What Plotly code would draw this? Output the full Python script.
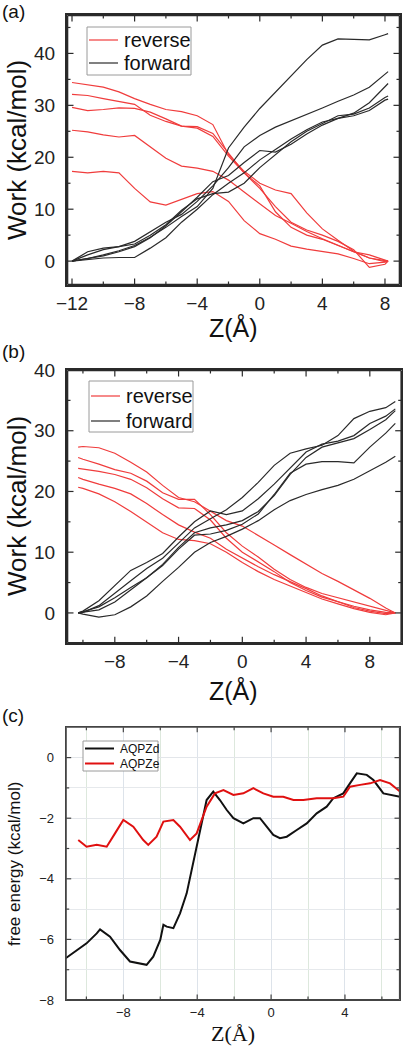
import plotly.graph_objects as go

# ---------------- Panel (a) data ----------------
A_Z = [-12, -11, -10, -9, -8, -7, -6, -5, -4, -3, -2, -1, 0, 1, 2, 3, 4, 5, 6, 7, 8, 8.2]
A_REV = [
    [34.4, 33.9, 33.5, 32.6, 31.3, 30.2, 29.2, 28.8, 28.0, 26.3, 20.5, 17.3, 15.0, 13.7, 13.0, 9.3, 6.2, 4.0, 1.9, 0.6, 0.0, 0.0],
    [32.1, 31.9, 31.3, 30.7, 30.2, 28.1, 26.9, 26.0, 25.6, 24.0, 20.2, 17.0, 14.0, 10.5, 7.5, 6.0, 5.0, 3.8, 2.2, -1.2, -0.6, 0.0],
    [29.6, 29.0, 29.2, 29.5, 29.4, 28.7, 27.4, 26.0, 25.9, 24.6, 20.8, 17.0, 14.5, 9.5, 6.5, 5.0, 4.2, 3.0, 1.8, 1.2, 0.2, 0.0],
    [25.2, 24.9, 24.3, 23.9, 24.2, 22.0, 19.8, 18.3, 17.9, 17.3, 15.6, 13.3, 11.0, 8.8, 7.3, 5.7, 4.3, 3.0, 1.8, 0.6, -0.1, 0.0],
    [17.3, 17.0, 17.3, 17.0, 14.0, 11.4, 10.8, 11.9, 13.0, 13.4, 11.5, 7.8, 5.3, 4.2, 2.9, 2.3, 1.8, 1.4, 0.5, -0.5, -0.2, 0.0],
]
A_FWD = [
    [0.0, 0.5, 1.2, 2.0, 3.0, 4.6, 6.5, 8.6, 10.5, 14.0, 21.8, 25.8, 29.4, 32.6, 35.8, 38.8, 41.6, 42.8, 42.7, 42.6, 43.6, 43.8],
    [0.0, 1.2, 2.2, 2.8, 3.8, 5.6, 7.5, 9.0, 11.5, 14.5, 18.0, 22.0, 24.2, 25.8, 27.0, 28.3, 29.5, 30.8, 32.0, 33.5, 36.0, 36.5],
    [0.0, 0.5, 1.0, 1.8, 2.8, 4.5, 6.8, 9.5, 12.3, 15.3, 16.5, 19.0, 21.3, 21.0, 22.5, 24.5, 26.2, 27.5, 28.5, 30.5, 33.5, 34.2],
    [0.0, 1.8, 2.5, 2.8, 3.3, 5.0, 7.0, 9.8, 12.0, 13.0, 13.3, 15.0, 18.0, 20.5, 23.0, 25.0, 26.5, 28.0, 28.3, 29.5, 31.5, 31.8],
    [0.0, 0.3, 0.6, 0.7, 0.7, 2.5, 4.5, 7.5, 10.0, 12.8, 15.0, 17.0, 19.5, 21.5, 23.5, 25.3, 26.8, 27.5, 28.0, 29.0, 31.0, 31.2],
]
A_XTICKS = [-12, -8, -4, 0, 4, 8]
A_XMINOR = [-10, -6, -2, 2, 6]
A_YTICKS = [0, 10, 20, 30, 40]
A_YMINOR = [5, 15, 25, 35, 45]

# ---------------- Panel (b) data ----------------
B_Z = [-10.3, -10, -9, -8, -7, -6, -5, -4, -3, -2, -1, 0, 1, 2, 3, 4, 5, 6, 7, 8, 9, 9.6]
B_REV = [
    [27.3, 27.4, 27.2, 26.3, 24.8, 23.2, 21.0, 19.0, 18.3, 16.7, 15.2, 14.3, 12.8, 11.2, 9.6, 8.0, 6.5, 5.2, 3.8, 2.4, 0.8, 0.0],
    [25.6, 25.3, 24.5, 23.6, 23.0, 21.7, 19.8, 18.7, 18.7, 16.2, 13.2, 11.0, 9.2, 7.2, 5.5, 4.2, 3.2, 2.5, 1.8, 1.0, 0.3, 0.0],
    [23.8, 23.7, 23.3, 22.8, 22.0, 20.6, 18.8, 17.3, 17.2, 15.3, 12.3, 10.0, 8.4, 6.8, 5.0, 3.7, 2.6, 1.8, 1.1, 0.5, 0.1, 0.0],
    [22.3, 22.0, 21.2, 20.5, 19.6, 18.0, 16.2, 14.5, 13.3, 12.3, 10.5, 9.0, 7.6, 6.3, 5.2, 4.0, 2.8, 1.8, 0.9, 0.3, -0.1, 0.0],
    [20.7, 20.5, 19.6, 18.3, 16.7, 15.0, 13.2, 12.1, 11.9, 11.4, 10.0, 8.3, 6.8, 5.5, 4.4, 3.3, 2.3, 1.5, 0.7, 0.1, -0.3, 0.0],
]
B_FWD = [
    [0.0, 0.1, 1.2, 3.3, 5.3, 7.3, 9.0, 11.5, 14.0, 15.5, 17.0, 19.0, 21.5, 24.3, 26.3, 27.0, 27.6, 29.2, 32.0, 33.2, 33.8, 34.8],
    [0.0, 0.3, 2.0, 4.5, 7.0, 8.3, 9.8, 12.5, 15.0, 16.8, 16.2, 16.8, 18.8, 21.2, 23.8, 26.5, 27.8, 28.3, 29.2, 31.2, 32.4, 33.6],
    [0.0, 0.1, 0.5, 1.8, 3.8, 5.8, 8.0, 10.8, 13.2, 14.0, 14.5, 15.2, 16.7, 19.3, 22.8, 25.6, 27.3, 28.0, 28.7, 30.2, 31.8, 33.3],
    [0.0, 0.2, 1.0, 2.5, 4.2, 5.8, 7.8, 10.5, 12.8, 13.0, 13.6, 14.6, 16.3, 19.5, 23.0, 24.5, 24.9, 24.9, 24.7, 27.3, 29.6, 31.2],
    [0.0, -0.2, -0.7, -0.3, 1.0, 2.8, 5.2, 7.5, 10.0, 11.6, 12.6, 13.8, 15.2, 17.0, 18.5, 19.5, 20.3, 21.0, 22.0, 23.4, 24.8, 25.8],
]
B_XTICKS = [-8, -4, 0, 4, 8]
B_XMINOR = [-10, -6, -2, 2, 6]
B_YTICKS = [0, 10, 20, 30]
B_YMINOR = [5, 15, 25, 35]

# ---------------- Panel (c) data ----------------
C_D_Z = [-11.12, -10.53, -9.99, -9.44, -9.26, -8.72, -8.18, -7.64, -7.10, -6.74, -6.38, -6.0, -5.83, -5.65,
         -5.29, -4.93, -4.57, -4.21, -3.85, -3.49, -3.13, -2.77, -2.40, -2.04, -1.50, -0.96, -0.60, -0.24,
         0.12, 0.48, 0.85, 1.39, 1.93, 2.47, 3.01, 3.37, 3.91, 4.27, 4.64, 5.18, 5.54, 6.08, 6.53, 6.98]
C_D_G = [-6.62, -6.35, -6.13, -5.80, -5.67, -5.91, -6.35, -6.73, -6.79, -6.84, -6.57, -6.02, -5.52, -5.58,
         -5.63, -5.14, -4.48, -3.49, -2.39, -1.40, -1.12, -1.40, -1.73, -2.00, -2.17, -2.00, -2.00, -2.28,
         -2.55, -2.66, -2.61, -2.39, -2.17, -1.84, -1.62, -1.34, -1.18, -0.85, -0.52, -0.57, -0.74, -1.18, -1.23, -1.29]
C_E_Z = [-10.44, -9.99, -9.44, -8.90, -8.45, -8.0, -7.46, -6.92, -6.65, -6.2, -5.83, -5.29, -4.93, -4.39,
         -4.03, -3.49, -3.04, -2.58, -2.04, -1.50, -0.96, -0.42, 0.12, 0.66, 1.21, 1.75, 2.47, 3.37, 3.91,
         4.27, 4.82, 5.36, 5.90, 6.44, 6.98]
C_E_G = [-2.72, -2.94, -2.88, -2.94, -2.50, -2.06, -2.28, -2.72, -2.88, -2.61, -2.11, -2.06, -2.28, -2.72,
         -2.50, -1.62, -1.18, -1.07, -1.23, -1.18, -1.01, -1.18, -1.29, -1.29, -1.40, -1.40, -1.34, -1.34, -1.29,
         -0.96, -0.90, -0.85, -0.74, -0.85, -1.12]
C_XTICKS = [-8, -4, 0, 4]
C_XMINOR = [-10, -6, -2, 2, 6]
C_YTICKS = [-8, -6, -4, -2, 0]
C_YMINOR = [-7, -5, -3, -1]

WORK_NAMES = ["reverse", "forward"]
FE_NAMES = ["AQPZd", "AQPZe"]

RED = "#f03c3c"
BLACK = "#2a2a2a"
C_BLACK = "#111111"
C_RED = "#e01010"
FRAME = "#2a2a2a"
SANS = "Liberation Sans, Arial, sans-serif"
SERIF = "Liberation Serif, Times New Roman, serif"

W, H = 403, 1047
def fx(p):
    return p / W
def fy(p):
    return 1 - p / H

PA = dict(l=67, r=400, t=15, b=285, xr=(-12.32, 8.96), yr=(-4.6, 47.4))
PB = dict(l=67, r=401.7, t=370, b=643.3, xr=(-11, 10), yr=(-5, 40))
PC = dict(l=65.7, r=400, t=726.7, b=1000, xr=(-11.12, 6.98), yr=(-8, 1.02))

fig = go.Figure()

def add_work(xa, ya, zs, rev, fwd):
    for ys in rev:
        fig.add_trace(go.Scatter(x=zs, y=ys, mode="lines", name=WORK_NAMES[0],
                                 line=dict(color=RED, width=1.2), showlegend=False,
                                 xaxis=xa, yaxis=ya))
    for ys in fwd:
        fig.add_trace(go.Scatter(x=zs, y=ys, mode="lines", name=WORK_NAMES[1],
                                 line=dict(color=BLACK, width=1.2), showlegend=False,
                                 xaxis=xa, yaxis=ya))

add_work("x", "y", A_Z, A_REV, A_FWD)
add_work("x2", "y2", B_Z, B_REV, B_FWD)
fig.add_trace(go.Scatter(x=C_D_Z, y=C_D_G, mode="lines", name=FE_NAMES[0], showlegend=False,
                         line=dict(color=C_BLACK, width=2), xaxis="x3", yaxis="y3"))
fig.add_trace(go.Scatter(x=C_E_Z, y=C_E_G, mode="lines", name=FE_NAMES[1], showlegend=False,
                         line=dict(color=C_RED, width=2), xaxis="x3", yaxis="y3"))

def ax_common(size, ticks):
    return dict(showline=True, linecolor=FRAME, linewidth=2, mirror=True,
                ticks="", tickvals=ticks, showgrid=False, zeroline=False,
                tickfont=dict(family=SANS, size=size, color="#222222"))

def xdom(p):
    return [fx(p["l"]), fx(p["r"])]
def ydom(p):
    return [fy(p["b"]), fy(p["t"])]

xa = ax_common(19, A_XTICKS)
xa.update(domain=xdom(PA), range=list(PA["xr"]), anchor="y")
ya = ax_common(19, A_YTICKS)
ya.update(domain=ydom(PA), range=list(PA["yr"]), anchor="x", ticklabelstandoff=6)

xb = ax_common(19, B_XTICKS)
xb.update(domain=xdom(PB), range=list(PB["xr"]), anchor="y2")
yb = ax_common(19, B_YTICKS + [40])
yb.update(domain=ydom(PB), range=list(PB["yr"]), anchor="x2", ticklabelstandoff=6)

xc = ax_common(13, C_XTICKS)
xc.update(domain=xdom(PC), range=list(PC["xr"]), anchor="y3", linewidth=1, linecolor="#444444",
          showgrid=True, gridcolor="#dde3ea", gridwidth=1,
          minor=dict(tickvals=C_XMINOR, showgrid=True, gridcolor="#dde8dd", gridwidth=1))
yc = ax_common(13, C_YTICKS)
yc.update(domain=ydom(PC), range=list(PC["yr"]), anchor="x3", linewidth=1, linecolor="#444444",
          showgrid=True, gridcolor="#e3e6ea", gridwidth=1,
          minor=dict(tickvals=C_YMINOR + [1], showgrid=True, gridcolor="#e6e9ec", gridwidth=1),
          ticklabelstandoff=8)

annotations = []
shapes = []

def pline(x0, y0, x1, y1, col, w):
    shapes.append(dict(type="line", xref="paper", yref="paper",
                       x0=fx(x0), x1=fx(x1), y0=fy(y0), y1=fy(y1),
                       line=dict(color=col, width=w), layer="above"))

def frame_and_ticks(p, xt, xm, yt, ym, lw, col, tl=6, tm=3):
    (xr0, xr1), (yr0, yr1) = p["xr"], p["yr"]
    def px(v):
        return p["l"] + (v - xr0) / (xr1 - xr0) * (p["r"] - p["l"])
    def py(v):
        return p["b"] - (v - yr0) / (yr1 - yr0) * (p["b"] - p["t"])
    # frame as four separate sides, drawn just inside the plot edge
    l, r, t, b = p["l"] + 0.5, p["r"] - 0.5, p["t"] + 0.5, p["b"] - 0.5
    pline(l, t, r, t, col, lw)
    pline(l, b, r, b, col, lw)
    pline(l, t, l, b, col, lw)
    pline(r, t, r, b, col, lw)
    for vals, ln in ((xt, tl), (xm, tm)):
        for v in vals:
            pline(px(v), b, px(v), b - ln, col, 1.2)
            pline(px(v), t, px(v), t + ln, col, 1.2)
    for vals, ln in ((yt, tl), (ym, tm)):
        for v in vals:
            pline(l, py(v), l + ln, py(v), col, 1.2)
            pline(r, py(v), r - ln, py(v), col, 1.2)

frame_and_ticks(PA, A_XTICKS, A_XMINOR, A_YTICKS, A_YMINOR, 1.6, FRAME)
frame_and_ticks(PB, B_XTICKS, B_XMINOR, B_YTICKS, B_YMINOR, 1.6, FRAME)
frame_and_ticks(PC, C_XTICKS, C_XMINOR, C_YTICKS, C_YMINOR, 1.2, "#444444", 5, 3)

def ann(text, x, y, size, rot=0, family=SANS, xanchor="center"):
    annotations.append(dict(text=text, x=fx(x), y=fy(y), xref="paper", yref="paper",
                            showarrow=False, textangle=rot, xanchor=xanchor, yanchor="middle",
                            font=dict(family=family, size=size, color="#111111")))

def legend_box(x0, y0, x1, y1, rows, size, lw):
    shapes.append(dict(type="rect", xref="paper", yref="paper", x0=fx(x0), x1=fx(x1),
                       y0=fy(y1), y1=fy(y0), line=dict(color="#9a9a9a", width=1),
                       fillcolor="white", layer="above"))
    for label, col, yc_ in rows:
        pline(x0 + 2, yc_, x0 + 31, yc_, col, lw)
        ann(label, x0 + 35, yc_, size, xanchor="left")

legend_box(87, 27, 191, 75, [(WORK_NAMES[0], RED, 40), (WORK_NAMES[1], BLACK, 63)], 20, 1.2)
legend_box(89, 381, 193, 432, [(WORK_NAMES[0], RED, 396), (WORK_NAMES[1], BLACK, 421)], 20, 1.2)
legend_box(83, 741, 158, 771, [(FE_NAMES[0], C_BLACK, 748.5), (FE_NAMES[1], C_RED, 763.5)], 12, 2)

ann("(a)", 0, 11, 19, xanchor="left")
ann("Work (kcal/mol)", 17, 150, 26, rot=-90)
ann("Z(Å)", 233, 327, 25)
ann("(b)", 0, 352, 19, xanchor="left")
ann("Work (kcal/mol)", 17, 506, 26, rot=-90)
ann("Z(Å)", 233, 690, 25)
ann("(c)", 0, 715, 19, xanchor="left")
ann("free energy (kcal/mol)", 14, 864, 17, rot=-90)
ann("Z(Å)", 233, 1033, 22, family=SERIF)

fig.update_layout(
    width=W, height=H, margin=dict(l=0, r=0, t=0, b=0, pad=0, autoexpand=False),
    paper_bgcolor="white", plot_bgcolor="white", showlegend=False,
    xaxis=xa, yaxis=ya, xaxis2=xb, yaxis2=yb, xaxis3=xc, yaxis3=yc,
    annotations=annotations, shapes=shapes,
)

fig.write_html("out.html", config={"displayModeBar": False},
               post_script="document.body.style.margin='0px';document.body.style.overflow='hidden';")
